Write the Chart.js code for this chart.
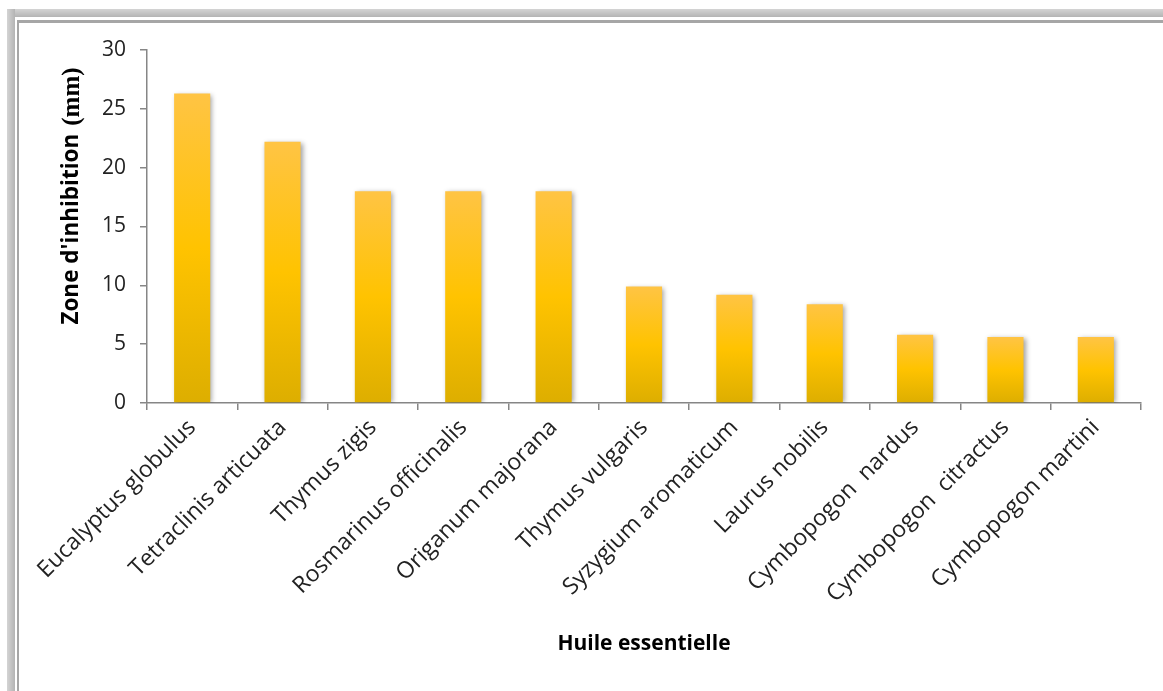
<!DOCTYPE html>
<html>
<head>
<meta charset="utf-8">
<script src="https://cdn.jsdelivr.net/npm/chart.js@4.4.1/dist/chart.umd.min.js"></script>
<style>
  html, body { margin: 0; padding: 0; background: #ffffff; }
  #wrap { position: relative; width: 1163px; height: 691px; overflow: hidden; }
  #c { position: absolute; left: 0; top: 0; }
  .band-top { position: absolute; left: 7px; top: 9px; width: 1160px; height: 8px;
    background: linear-gradient(to bottom, #d4d4d4, #b4b4b4); }
  .band-left { position: absolute; left: 7px; top: 9px; width: 8px; height: 690px;
    background: linear-gradient(to right, #d4d4d4, #b4b4b4); }
  .line-top { position: absolute; left: 17px; top: 20px; width: 1150px; height: 3px; background: #a6a6a6; }
  .line-left { position: absolute; left: 17px; top: 20px; width: 2px; height: 680px; background: #a6a6a6; }
</style>
</head>
<body>
<div id="wrap">
  <canvas id="c" width="1163" height="691"></canvas>
  <div class="band-top"></div>
  <div class="band-left"></div>
  <div class="line-top"></div>
  <div class="line-left"></div>
</div>
<script>
const categories = [
  "Eucalyptus globulus",
  "Tetraclinis articuata",
  "Thymus zigis",
  "Rosmarinus officinalis",
  "Origanum majorana",
  "Thymus vulgaris",
  "Syzygium aromaticum",
  "Laurus nobilis",
  "Cymbopogon  nardus",
  "Cymbopogon  citractus",
  "Cymbopogon martini"
];
const inhibitionValues = [26.3, 22.2, 18, 18, 18, 9.9, 9.2, 8.4, 5.8, 5.6, 5.6];
const yTicks = [0, 5, 10, 15, 20, 25, 30];
const xTitle = "Huile essentielle";
const yTitleMain = "Zone d'inhibition";
const yTitleUnit = "(mm)";

const barShadow = {
  id: 'barShadow',
  beforeDatasetsDraw(chart) {
    const c = chart.ctx;
    c.save();
    c.shadowColor = 'rgba(0,0,0,0.38)';
    c.shadowBlur = 5;
    c.shadowOffsetX = 2;
    c.shadowOffsetY = 1;
  },
  afterDatasetsDraw(chart) { chart.ctx.restore(); }
};

const yTitlePlugin = {
  id: 'yTitlePlugin',
  afterDraw(chart) {
    const c = chart.ctx;
    const fMain = "bold 22.5px 'Open Sans'";
    const fUnit = "bold 25px 'Liberation Serif'";
    c.save();
    c.font = fMain; const w1 = c.measureText(yTitleMain).width;
    c.font = fUnit; const w2 = c.measureText(yTitleUnit).width;
    const gap = 8;
    const total = w1 + gap + w2;
    const cy = 196;
    const cx = 72;
    c.translate(cx, cy);
    c.rotate(-Math.PI / 2);
    c.textBaseline = 'middle';
    c.textAlign = 'left';
    c.fillStyle = '#000000';
    c.font = fMain;
    c.fillText(yTitleMain, -total / 2, 0);
    c.font = fUnit;
    c.fillText(yTitleUnit, -total / 2 + w1 + gap, 1);
    c.restore();
  }
};

function barGradient(ctx) {
  const chart = ctx.chart;
  const ys = chart.scales && chart.scales.y;
  if (!chart.chartArea || !ys || ctx.raw === undefined) return '#FFC000';
  const top = ys.getPixelForValue(ctx.raw);
  const bot = ys.getPixelForValue(0);
  const g = chart.ctx.createLinearGradient(0, top, 0, bot);
  g.addColorStop(0, '#FFC444');
  g.addColorStop(0.5, '#FFC300');
  g.addColorStop(1, '#DDAE00');
  return g;
}

new Chart(document.getElementById('c'), {
  type: 'bar',
  data: {
    labels: categories,
    datasets: [{
      data: inhibitionValues,
      backgroundColor: barGradient,
      borderWidth: 0,
      barPercentage: 0.4,
      categoryPercentage: 1.0
    }]
  },
  options: {
    responsive: false,
    animation: false,
    devicePixelRatio: 1,
    layout: { padding: { left: 55, right: 22, top: 50, bottom: 30 } },
    plugins: { legend: { display: false }, tooltip: { enabled: false } },
    scales: {
      x: {
        grid: { display: true, drawOnChartArea: false, offset: true, tickLength: 7, color: '#868686', lineWidth: 1.5 },
        border: { display: true, color: '#868686', width: 1.5 },
        ticks: {
          minRotation: 45, maxRotation: 45, autoSkip: false, padding: 4,
          color: '#222222', font: { family: "'Open Sans'", size: 23 }
        },
        title: {
          display: true, text: xTitle, color: '#000000',
          font: { family: "'Open Sans'", size: 21, weight: 'bold' },
          padding: { top: 4, bottom: 4 }
        },
        afterFit(scale) { scale.height = 258; }
      },
      y: {
        min: 0, max: 30,
        afterBuildTicks(scale) { scale.ticks = yTicks.map(v => ({ value: v })); },
        grid: { display: true, drawOnChartArea: false, tickLength: 7, color: '#868686', lineWidth: 1.5 },
        border: { display: true, color: '#868686', width: 1.5 },
        ticks: {
          padding: 14, color: '#222222',
          font: { family: "'Open Sans'", size: 21 }
        },
        title: { display: false },
        afterFit(scale) { scale.width = 92; }
      }
    }
  },
  plugins: [barShadow, yTitlePlugin]
});
</script>
</body>
</html>
